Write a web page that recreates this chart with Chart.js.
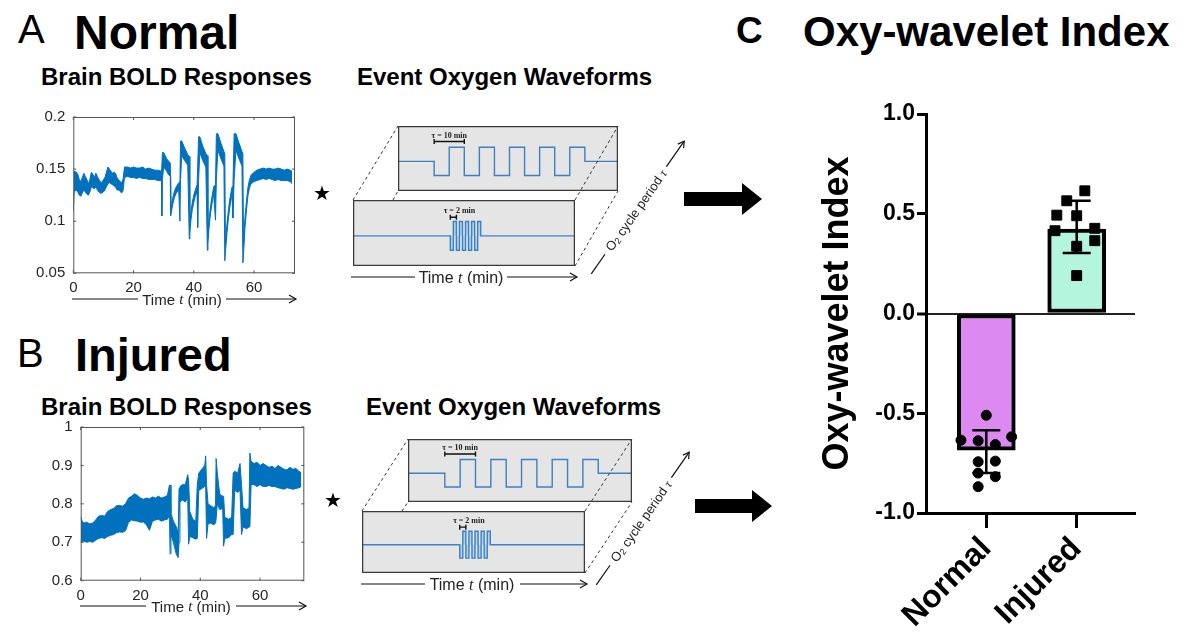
<!DOCTYPE html>
<html lang="en">
<head>
<meta charset="UTF-8">
<title>Oxy-wavelet Index</title>
<script src="https://cdn.jsdelivr.net/npm/chart.js"></script>
<style>
  html, body { margin: 0; padding: 0; background: #fff; }
  #fig { position: relative; width: 1191px; height: 635px; overflow: hidden;
         font-family: "Liberation Sans", Arial, sans-serif; color: #000; }
  #fig canvas, #fig .t, #fig svg { position: absolute; }
  .t { white-space: nowrap; line-height: 1; }
  .b { font-weight: bold; }
</style>
</head>
<body>
<div id="fig">
  <!-- panel A -->
  <div class="t" style="left:18px;top:9px;font-size:40px;">A</div>
  <div class="t b" style="left:74px;top:9px;font-size:48px;">Normal</div>
  <div class="t b" style="left:41px;top:65px;font-size:24px;">Brain BOLD Responses</div>
  <div class="t b" style="left:357px;top:65px;font-size:24px;">Event Oxygen Waveforms</div>
  <canvas id="boldA" width="290" height="200" style="left:20px;top:100px"></canvas>
  <canvas id="waveA10" width="220" height="65" style="left:398px;top:126px"></canvas>
  <canvas id="waveA2" width="222" height="66" style="left:353px;top:200px"></canvas>

  <!-- panel B -->
  <div class="t" style="left:17px;top:333px;font-size:40px;">B</div>
  <div class="t b" style="left:75px;top:331px;font-size:47px;">Injured</div>
  <div class="t b" style="left:41px;top:395px;font-size:24px;">Brain BOLD Responses</div>
  <div class="t b" style="left:366px;top:395px;font-size:24px;">Event Oxygen Waveforms</div>
  <canvas id="boldB" width="300" height="190" style="left:20px;top:410px"></canvas>
  <canvas id="waveB10" width="224" height="63" style="left:408px;top:439px"></canvas>
  <canvas id="waveB2" width="223" height="62" style="left:362px;top:511px"></canvas>

  <!-- panel C -->
  <div class="t b" style="left:736px;top:12px;font-size:37px;">C</div>
  <div class="t b" style="left:803px;top:11px;font-size:42px;">Oxy-wavelet Index</div>
  <canvas id="oxy" width="355" height="540" style="left:790px;top:95px"></canvas>

  <svg width="1191" height="635" style="left:0;top:0" font-family="Liberation Sans, Arial, sans-serif">
    <!-- perspective edges between the waveform boxes -->
    <g stroke="#333" stroke-width="1" stroke-dasharray="3 3" fill="none">
      <line x1="353" y1="200" x2="398" y2="126"/>
      <line x1="393" y1="200" x2="398" y2="191"/>
      <line x1="575" y1="200" x2="618" y2="126"/>
      <line x1="575" y1="266" x2="618" y2="191"/>
      <line x1="362" y1="511" x2="408" y2="439"/>
      <line x1="402" y1="511" x2="408" y2="502"/>
      <line x1="585" y1="511" x2="632" y2="439"/>
      <line x1="585" y1="573" x2="632" y2="502"/>
    </g>

    <!-- time arrows -->
    <g stroke="#111" stroke-width="1.2" fill="none">
      <line x1="72" y1="299" x2="138" y2="299"/><line x1="226" y1="299" x2="296" y2="299"/>
      <path d="M289 295 L296 299 L289 303"/>
      <line x1="80" y1="606" x2="146" y2="606"/><line x1="236" y1="606" x2="306" y2="606"/>
      <path d="M299 602 L306 606 L299 610"/>
      <line x1="351" y1="277" x2="415" y2="277"/><line x1="507" y1="277" x2="577" y2="277"/>
      <path d="M570 273 L577 277 L570 281"/>
      <line x1="361" y1="584" x2="425" y2="584"/><line x1="520" y1="584" x2="587" y2="584"/>
      <path d="M580 580 L587 584 L580 588"/>
    </g>
    <g fill="#222" text-anchor="middle" dominant-baseline="central">
      <text x="182" y="299" font-size="15">Time <tspan font-style="italic" font-family="Liberation Serif, serif">t</tspan> (min)</text>
      <text x="191" y="606" font-size="15">Time <tspan font-style="italic" font-family="Liberation Serif, serif">t</tspan> (min)</text>
      <text x="461" y="277" font-size="16">Time <tspan font-style="italic" font-family="Liberation Serif, serif">t</tspan> (min)</text>
      <text x="472" y="584" font-size="16">Time <tspan font-style="italic" font-family="Liberation Serif, serif">t</tspan> (min)</text>
    </g>

    <!-- O2 cycle period axis -->
    <g transform="translate(636,210) rotate(-55)" stroke="#111" stroke-width="1.2" fill="none">
      <line x1="-78" y1="0" x2="-54" y2="0"/><line x1="53" y1="0" x2="84" y2="0"/>
      <path d="M78 -3.5 L84 0 L78 3.5"/>
      <text x="0" y="0" stroke="none" fill="#222" font-size="13" text-anchor="middle" dominant-baseline="central">O<tspan font-size="9" dy="3">2</tspan><tspan dy="-3"> cycle period </tspan><tspan font-style="italic" font-family="Liberation Serif, serif">τ</tspan></text>
    </g>
    <g transform="translate(641,521) rotate(-55)" stroke="#111" stroke-width="1.2" fill="none">
      <line x1="-78" y1="0" x2="-54" y2="0"/><line x1="53" y1="0" x2="84" y2="0"/>
      <path d="M78 -3.5 L84 0 L78 3.5"/>
      <text x="0" y="0" stroke="none" fill="#222" font-size="13" text-anchor="middle" dominant-baseline="central">O<tspan font-size="9" dy="3">2</tspan><tspan dy="-3"> cycle period </tspan><tspan font-style="italic" font-family="Liberation Serif, serif">τ</tspan></text>
    </g>

    <!-- convolution stars and result arrows -->
    <text x="322" y="193" font-size="20" text-anchor="middle" dominant-baseline="central" font-family="DejaVu Sans">★</text>
    <text x="333" y="500" font-size="20" text-anchor="middle" dominant-baseline="central" font-family="DejaVu Sans">★</text>
    <polygon fill="#000" points="684,192 742,192 742,183 762,199 742,215 742,206 684,206"/>
    <polygon fill="#000" points="695,499 752,499 752,490 772,506 752,522 752,513 695,513"/>
  </svg>
</div>

<script>
// ---- BOLD traces (upper / lower edge of the noisy trace) ----
const tNormal = [
  0, 0.3, 1, 1.5, 2, 2.5, 3, 3.5, 4, 4.5, 5, 5.5, 6, 6.5, 7, 7.5, 8, 8.5, 9, 9.5,
  10, 10.5, 11, 11.5, 12, 12.5, 13, 13.5, 14, 14.5, 15, 15.5, 16, 16.5,
  17, 18, 19, 20, 21, 22, 23, 24, 25, 26, 27, 28, 29.3,
  29.4, 29.6, 30, 30.5, 31, 31.5, 32.2, 32.3, 32.5, 33, 33.5, 34, 35,
  35.4, 35.6, 36, 37, 38, 38.5, 38.7, 39, 39.5, 40, 40.5, 41.1,
  41.3, 41.6, 42, 43, 44, 44.5, 44.7, 45, 45.5, 46, 46.6,
  47.2, 47.5, 48, 49, 50, 50.3, 50.5, 51, 51.5, 52, 52.7,
  53, 53.4, 54, 55, 56, 56.3, 56.5, 57, 57.5, 58, 58.5, 59,
  60, 61, 62, 63, 64, 65, 66, 67, 68, 69, 70, 71, 72, 72.6
];
const hiNormal = [
  .146, .148, .147, .145, .140, .138, .142, .146, .143, .140, .136, .140, .147, .145, .142, .146, .143, .140, .138, .137,
  .140, .142, .147, .152, .150, .148, .146, .147, .146, .142, .140, .138, .137, .140,
  .152, .152, .151, .152, .151, .151, .152, .150, .151, .150, .149, .149, .148,
  .148, .166, .166, .163, .160, .158, .156, .156, .114, .122, .128, .132, .137,
  .138, .177, .177, .170, .164, .162, .098, .108, .118, .125, .130, .135,
  .135, .181, .181, .172, .165, .163, .088, .100, .113, .123, .133,
  .135, .184, .184, .175, .167, .165, .080, .097, .111, .122, .133,
  .135, .184, .184, .175, .167, .165, .080, .104, .120, .133, .140, .144,
  .147, .149, .150, .151, .150, .151, .150, .150, .151, .150, .149, .150, .149, .148
];
const loNormal = [
  .110, .128, .130, .128, .125, .124, .127, .130, .128, .126, .125, .128, .133, .132, .131, .133, .130, .128, .127, .127,
  .128, .130, .133, .136, .137, .136, .135, .134, .133, .130, .130, .129, .127, .129,
  .142, .143, .142, .142, .141, .142, .141, .141, .140, .140, .140, .139, .139,
  .105, .140, .152, .150, .148, .145, .143, .105, .108, .116, .122, .126, .130,
  .100, .140, .163, .158, .154, .083, .088, .100, .111, .118, .124, .128,
  .094, .140, .166, .158, .152, .072, .078, .092, .106, .116, .126,
  .101, .140, .168, .160, .153, .062, .070, .088, .103, .114, .126,
  .103, .140, .168, .160, .153, .060, .068, .094, .111, .125, .132, .136,
  .138, .139, .140, .141, .140, .141, .140, .139, .140, .139, .139, .139, .138, .136
];

const tInjured = [
  0, 0.5, 1, 2, 3, 4, 5, 6, 7, 8, 9, 10, 11, 12, 13, 14, 15, 16, 17, 18,
  19, 20, 21, 22, 23, 24, 25, 26, 27, 28, 29,
  29.7, 29.9, 30.2, 31, 32, 32.6, 32.9, 33.2, 34, 35, 35.8,
  36.1, 36.5, 37.5, 38.5, 39, 39.5, 40.5, 41.5, 41.8, 42.1, 42.6, 43.5, 44.5, 45.1,
  45.3, 45.7, 46.5, 47.5, 47.8, 48.2, 49.5, 50.5, 51, 51.5, 52.5, 53.3, 53.8, 54.3, 55.5, 56.3,
  56.6, 57, 58, 59, 60, 61, 62, 63, 64, 65, 66, 67, 68, 69, 70, 71, 72, 73, 73.8
];
const hiInjured = [
  .766, .755, .750, .752, .748, .750, .758, .768, .770, .768, .780, .785, .788, .795, .796, .794, .800, .815, .820, .826,
  .822, .815, .812, .815, .813, .818, .815, .820, .815, .818, .822,
  .849, .849, .775, .755, .740, .725, .840, .845, .850, .850, .876,
  .860, .780, .760, .755, .850, .880, .890, .900, .925, .850, .800, .795, .790, .795,
  .918, .880, .825, .820, .820, .765, .760, .765, .880, .885, .880, .905, .850, .790, .785, .790,
  .932, .910, .905, .908, .900, .905, .900, .895, .898, .892, .900, .895, .890, .888, .895, .890, .892, .885, .880
];
const loInjured = [
  .705, .700, .703, .700, .702, .700, .705, .710, .712, .710, .715, .718, .720, .725, .727, .726, .730, .752, .758, .756,
  .755, .752, .753, .745, .731, .755, .758, .760, .755, .758, .760,
  .770, .670, .720, .700, .668, .660, .700, .805, .810, .805, .815,
  .695, .715, .712, .708, .710, .835, .840, .845, .850, .710, .748, .750, .745, .750,
  .760, .800, .785, .788, .690, .710, .712, .720, .720, .835, .830, .835, .720, .740, .735, .740,
  .740, .850, .850, .845, .850, .845, .845, .848, .845, .845, .842, .840, .838, .842, .840, .838, .840, .842, .845
];

// ---- event oxygen waveforms (schematic; minutes, level -1 / 0 / +1) ----
const wave10T = [0, 12, 17, 22, 27, 32, 37, 42, 47, 52, 57, 62, 73];
const wave10V = [0, -1, 1, -1, 1, -1, 1, -1, 1, -1, 1, 0, 0];
const wave2T = [0, 32, 33, 34, 35, 36, 37, 38, 39, 40, 41, 42, 73];
const wave2V = [0, -1, 1, -1, 1, -1, 1, -1, 1, -1, 1, 0, 0];

// ---- panel C ----
const groups = ['Normal', 'Injured'];
const barMeans = [-0.685, 0.423];
const errLow = [-0.80, 0.303];
const errHigh = [-0.585, 0.565];
const normalPts = [-0.51, -0.635, -0.638, -0.657, -0.618, -0.743, -0.74, -0.80, -0.818, -0.868];
const injuredPts = [0.615, 0.565, 0.493, 0.49, 0.415, 0.427, 0.365, 0.337, 0.19];
// horizontal scatter of the dots inside each bar (category units)
const normalJit = [0, -0.28, -0.09, 0.1, 0.28, -0.09, 0.1, -0.09, 0.1, -0.09];
const injuredJit = [0.09, -0.11, -0.22, 0, -0.24, 0.2, 0.2, 0, 0];

const SANS = '"Liberation Sans", Arial, sans-serif';
Chart.defaults.font.family = SANS;
const xy = (xs, ys) => xs.map((x, i) => ({ x: x, y: ys[i] }));
// matlab style tick text: 0.2 not 0.20, 1 not 1.0
const shortNum = v => String(parseFloat(Number(v).toFixed(3)));

// box round the plot area, with small inward ticks like a matlab axes
const frame = {
  id: 'frame',
  afterDraw(chart, args, o) {
    const { ctx, chartArea: a } = chart;
    ctx.save();
    ctx.strokeStyle = o.color;
    ctx.lineWidth = o.width;
    ctx.strokeRect(a.left + 0.5, a.top + 0.5, a.width - 1, a.height - 1);
    if (o.tick) {
      const { x, y } = chart.scales;
      ctx.beginPath();
      x.ticks.forEach(t => {
        const p = x.getPixelForValue(t.value);
        ctx.moveTo(p, a.bottom); ctx.lineTo(p, a.bottom - o.tick);
        ctx.moveTo(p, a.top); ctx.lineTo(p, a.top + o.tick);
      });
      y.ticks.forEach(t => {
        const p = y.getPixelForValue(t.value);
        ctx.moveTo(a.left, p); ctx.lineTo(a.left + o.tick, p);
        ctx.moveTo(a.right, p); ctx.lineTo(a.right - o.tick, p);
      });
      ctx.stroke();
    }
    ctx.restore();
  }
};

const boxFill = {
  id: 'boxFill',
  beforeDraw(chart, args, o) {
    const { ctx, chartArea: a } = chart;
    ctx.save();
    ctx.fillStyle = o.color;
    ctx.fillRect(a.left, a.top, a.width, a.height);
    ctx.restore();
  }
};

// "tau = n min" bracket above the waveform
const tauMark = {
  id: 'tauMark',
  afterDatasetsDraw(chart, args, o) {
    const { ctx, scales: { x, y } } = chart;
    const x0 = x.getPixelForValue(o.from), x1 = x.getPixelForValue(o.to);
    const yb = y.getPixelForValue(o.level);
    ctx.save();
    ctx.strokeStyle = '#111';
    ctx.lineWidth = 1.4;
    ctx.beginPath();
    ctx.moveTo(x0, yb); ctx.lineTo(x1, yb);
    ctx.moveTo(x0, yb - 2.5); ctx.lineTo(x0, yb + 2.5);
    ctx.moveTo(x1, yb - 2.5); ctx.lineTo(x1, yb + 2.5);
    ctx.stroke();
    ctx.fillStyle = '#222';
    ctx.font = 'bold 8px "Liberation Serif", serif';
    ctx.textAlign = 'center';
    ctx.textBaseline = 'bottom';
    ctx.fillText(o.label, x.getPixelForValue(o.textAt), yb - 2);
    ctx.restore();
  }
};

function boldChart(id, t, hi, lo, xMax, yMin, yMax, step, box) {
  const blue = '#0072bd';
  new Chart(document.getElementById(id), {
    type: 'line',
    data: {
      datasets: [
        { data: xy(t, hi), borderColor: blue, backgroundColor: blue, borderWidth: 1,
          pointRadius: 0, fill: '+1', tension: 0 },
        { data: xy(t, lo), borderColor: blue, borderWidth: 1, pointRadius: 0, fill: false, tension: 0 }
      ]
    },
    options: {
      responsive: false, animation: false, events: [],
      layout: { padding: { left: 0, top: box.top, right: box.right, bottom: 0 } },
      scales: {
        x: {
          type: 'linear', min: 0, max: xMax,
          afterFit: s => { s.height = box.xh; },
          grid: { display: false, drawTicks: false }, border: { display: false },
          ticks: { stepSize: 20, includeBounds: false, color: '#262626', padding: 6,
                   font: { size: 15 }, maxRotation: 0 }
        },
        y: {
          min: yMin, max: yMax,
          afterFit: s => { s.width = box.yw; },
          grid: { display: false, drawTicks: false }, border: { display: false },
          ticks: { stepSize: step, callback: shortNum, color: '#262626', padding: 8, font: { size: 15 } }
        }
      },
      plugins: {
        legend: { display: false }, tooltip: { enabled: false },
        frame: { color: '#555', width: 1, tick: 3 }
      }
    },
    plugins: [frame]
  });
}

function waveBox(id, ts, vs, filled, tau) {
  new Chart(document.getElementById(id), {
    type: 'line',
    data: {
      datasets: [{
        data: xy(ts, vs), stepped: true, borderColor: '#3d80c4', borderWidth: 1.4,
        pointRadius: 0, fill: filled ? 'origin' : false,
        backgroundColor: 'rgba(140,196,238,0.6)'
      }]
    },
    options: {
      responsive: false, animation: false, events: [],
      layout: { padding: 0 },
      scales: {
        x: { type: 'linear', min: 0, max: 73, display: false },
        y: { min: -2.1, max: 2.5, display: false }
      },
      plugins: {
        legend: { display: false }, tooltip: { enabled: false },
        boxFill: { color: '#e5e5e5' },
        frame: { color: '#3a3a3a', width: 1.5, tick: 0 },
        tauMark: tau
      }
    },
    plugins: [boxFill, tauMark, frame]
  });
}

boldChart('boldA', tNormal, hiNormal, loNormal, 73.6, 0.05, 0.2, 0.05,
          { top: 14, right: 15, yw: 53.3, xh: 26.7 });
boldChart('boldB', tInjured, hiInjured, loInjured, 74.8, 0.6, 1, 0.1,
          { top: 16.7, right: 15.7, yw: 60.7, xh: 19.3 });

waveBox('waveA10', wave10T, wave10V, false, { from: 12, to: 22, level: 1.4, textAt: 17, label: 'τ = 10 min' });
waveBox('waveA2', wave2T, wave2V, true, { from: 32, to: 34, level: 1.3, textAt: 35, label: 'τ = 2 min' });
waveBox('waveB10', wave10T, wave10V, false, { from: 12, to: 22, level: 1.4, textAt: 17, label: 'τ = 10 min' });
waveBox('waveB2', wave2T, wave2V, true, { from: 32, to: 34, level: 1.3, textAt: 35, label: 'τ = 2 min' });

// error bars (mean +/- sem) drawn over the bars
const errBars = {
  id: 'errBars',
  afterDatasetsDraw(chart) {
    const { ctx, scales: { x, y } } = chart;
    ctx.save();
    ctx.strokeStyle = '#000';
    ctx.lineWidth = 2.5;
    barMeans.forEach((m, i) => {
      const px = x.getPixelForValue(i + 1);
      const yl = y.getPixelForValue(errLow[i]);
      const yh = y.getPixelForValue(errHigh[i]);
      ctx.beginPath();
      ctx.moveTo(px, yl); ctx.lineTo(px, yh);
      ctx.moveTo(px - 14, yl); ctx.lineTo(px + 14, yl);
      ctx.moveTo(px - 14, yh); ctx.lineTo(px + 14, yh);
      ctx.stroke();
    });
    ctx.restore();
  }
};

const isZero = c => c.tick && Math.abs(c.tick.value) < 1e-9;

new Chart(document.getElementById('oxy'), {
  type: 'bar',
  data: {
    datasets: [
      { type: 'scatter', data: normalPts.map((v, i) => ({ x: 1 + normalJit[i], y: v })),
        pointStyle: 'circle', pointRadius: 5, backgroundColor: '#000', borderColor: '#000', order: 1 },
      { type: 'scatter', data: injuredPts.map((v, i) => ({ x: 2 + injuredJit[i], y: v })),
        pointStyle: 'rect', pointRadius: 7, backgroundColor: '#000', borderColor: '#000', order: 1 },
      { type: 'bar', data: barMeans.map((v, i) => ({ x: i + 1, y: v })),
        backgroundColor: ['#dc8af2', '#b4f5de'], borderColor: '#000', borderWidth: 4,
        borderSkipped: false, barThickness: 58, order: 2 }
    ]
  },
  options: {
    responsive: false, animation: false, events: [],
    layout: { padding: { left: 0, top: 19, right: 10, bottom: 0 } },
    scales: {
      x: {
        type: 'linear', min: 0.333, max: 2.645, offset: false,
        afterFit: s => { s.height = 122; },
        afterBuildTicks: s => { s.ticks = groups.map((g, i) => ({ value: i + 1 })); },
        ticks: { callback: v => groups[v - 1], autoSkip: false, minRotation: 45, maxRotation: 45,
                 color: '#000', padding: 2, font: { size: 32, weight: 'bold' } },
        grid: { offset: false, drawOnChartArea: false, tickLength: 15, tickWidth: 3,
                tickColor: '#000', color: '#000' },
        border: { color: '#000', width: 3 }
      },
      y: {
        min: -1, max: 1,
        afterFit: s => { s.width = 136; },
        ticks: { stepSize: 0.5, callback: v => v.toFixed(1), color: '#000', padding: 2,
                 font: { size: 23, weight: 'bold' } },
        grid: { drawOnChartArea: true,
                color: c => isZero(c) ? '#222' : 'rgba(0,0,0,0)',
                lineWidth: c => isZero(c) ? 2 : 1,
                tickColor: '#000', tickWidth: 3, tickLength: 9 },
        border: { color: '#000', width: 3 },
        title: { display: true, text: 'Oxy-wavelet Index', color: '#000',
                 font: { size: 36, weight: 'bold' }, padding: { top: 26, bottom: 0 } }
      }
    },
    plugins: { legend: { display: false }, tooltip: { enabled: false } }
  },
  plugins: [errBars]
});
</script>
</body>
</html>
